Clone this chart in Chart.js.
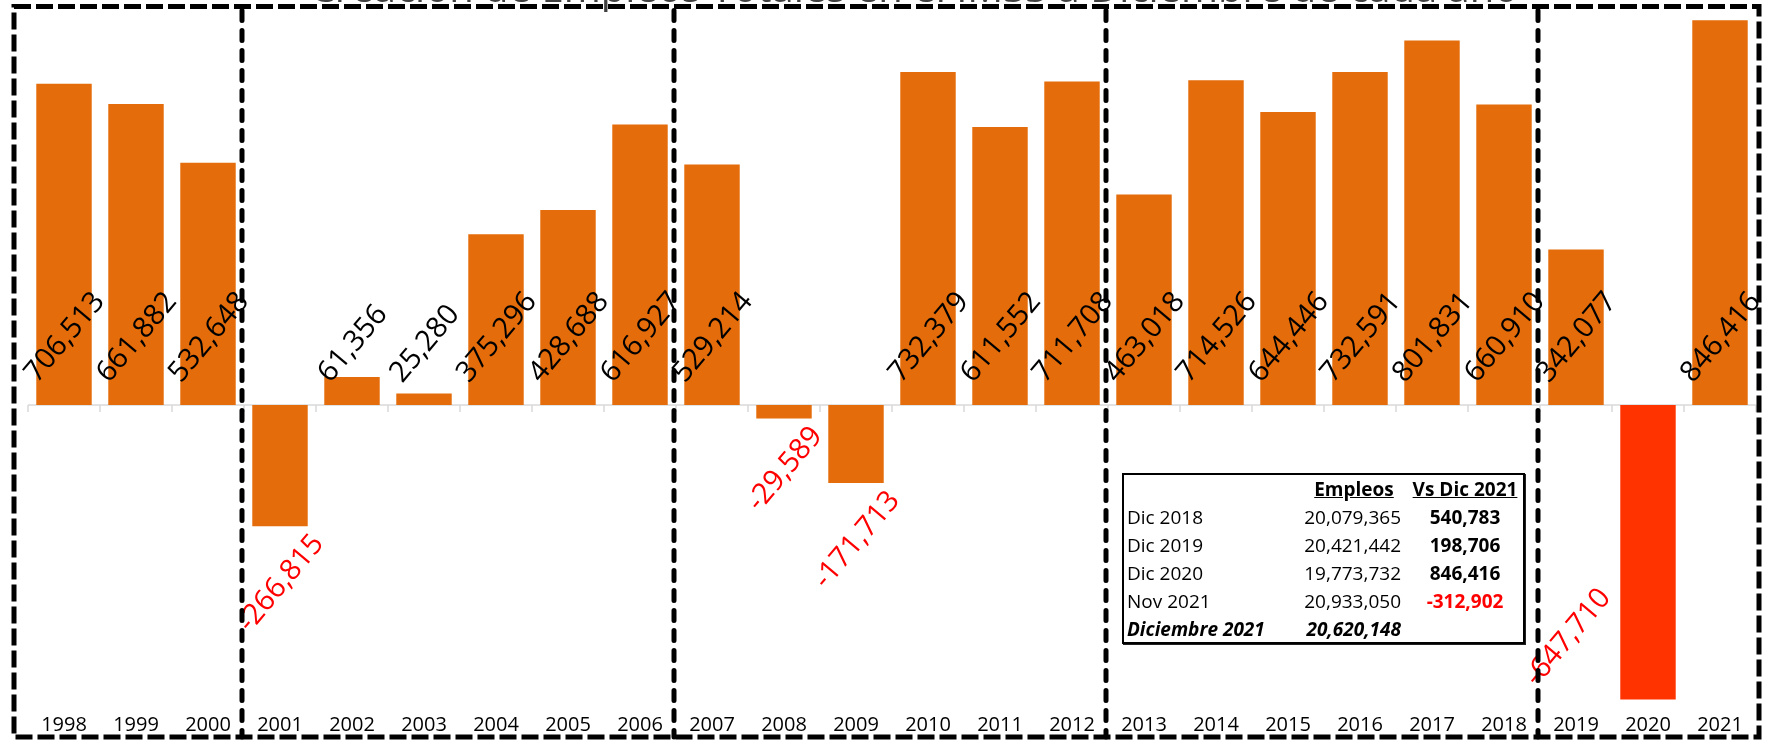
<!DOCTYPE html>
<html>
<head>
<meta charset="utf-8">
<script src="https://cdn.jsdelivr.net/npm/chart.js@4.4.1/dist/chart.umd.min.js"></script>
<style>
  body { margin: 0; background: #fff; }
  #wrap { position: relative; width: 1769px; height: 740px; }
  #summary {
    position: absolute; left: 1122px; top: 473px; width: 403px; height: 171px;
    box-sizing: border-box; border: 2px solid #000; box-shadow: 1px 1px 0 #222;
    background: #fff; font-family: "Open Sans", sans-serif; font-size: 19px; color: #000;
  }
  #summary table { border-collapse: collapse; width: 100%; }
  #summary td { height: 28px; padding: 0; line-height: 28px; white-space: nowrap; }
  #summary td.lab { padding-left: 3px; width: 174px; }
  #summary td.num { text-align: right; padding-right: 6px; width: 100px; }
  #summary td.vs { text-align: center; font-weight: bold; }
  #summary .hd { font-weight: bold; text-decoration: underline; text-align: center; }
</style>
</head>
<body>
<div id="wrap">
  <canvas id="empleosChart"></canvas>
  <div id="summary"><table id="summaryTable"></table></div>
</div>
<script>
// --- Data ---
let years = ['1998', '1999', '2000', '2001', '2002', '2003', '2004', '2005', '2006', '2007', '2008', '2009',
             '2010', '2011', '2012', '2013', '2014', '2015', '2016', '2017', '2018', '2019', '2020', '2021'];
let jobsCreated = [706513, 661882, 532648, -266815, 61356, 25280, 375296, 428688, 616927, 529214, -29589, -171713,
                   732379, 611552, 711708, 463018, 714526, 644446, 732591, 801831, 660910, 342077, -647710, 846416];
let highlightYear = '2020';
let groupStarts = ['2001', '2007', '2013', '2019']; // first year of each dashed group

// summary table
let tableRows = ['Dic 2018', 'Dic 2019', 'Dic 2020', 'Nov 2021'];
let tableEmpleos = [20079365, 20421442, 19773732, 20933050];
let tableVsDic = [540783, 198706, 846416, -312902];
let totalLabel = 'Diciembre 2021';
let totalEmpleos = 20620148;

let titleText = 'Creación de Empleos Totales en el IMSS a Diciembre de cada año';

function fmt(n) {
    return n.toLocaleString('en-US');
}

// --- Summary table ---
let tbl = document.getElementById('summaryTable');
let html = '<tr><td class="lab"></td><td class="hd">Empleos</td><td class="hd">Vs Dic 2021</td></tr>';
tableRows.forEach(function (r, i) {
    let col = tableVsDic[i] < 0 ? ' style="color:#FF0000"' : '';
    html += '<tr><td class="lab">' + r + '</td><td class="num">' + fmt(tableEmpleos[i]) +
            '</td><td class="vs"' + col + '>' + fmt(tableVsDic[i]) + '</td></tr>';
});
html += '<tr><td class="lab" style="font-weight:bold;font-style:italic">' + totalLabel +
        '</td><td class="num" style="font-weight:bold;font-style:italic">' + fmt(totalEmpleos) + '</td><td></td></tr>';
tbl.innerHTML = html;

// --- Extra drawing: zero line, value labels, dashed boxes, title ---
let decorations = {
    id: 'decorations',
    beforeDatasetsDraw(chart) {
        let ctx = chart.ctx, area = chart.chartArea;
        let x = chart.scales.x, y0 = chart.scales.y.getPixelForValue(0);
        ctx.save();
        ctx.strokeStyle = '#D9D9D9';
        ctx.lineWidth = 1.5;
        ctx.beginPath();
        ctx.moveTo(area.left, y0);
        ctx.lineTo(area.right, y0);
        for (let i = 0; i <= years.length; i++) {
            let px;
            if (i === 0) px = area.left;
            else if (i === years.length) px = area.right;
            else px = (x.getPixelForValue(i - 1) + x.getPixelForValue(i)) / 2;
            ctx.moveTo(px, y0);
            ctx.lineTo(px, y0 + 7);
        }
        ctx.stroke();
        ctx.restore();
    },
    afterDatasetsDraw(chart) {
        let ctx = chart.ctx, area = chart.chartArea;
        let meta = chart.getDatasetMeta(0);
        let deg = 50, ang = -deg * Math.PI / 180;
        let size = 29;
        ctx.save();
        ctx.font = size + 'px "Open Sans"';
        ctx.textAlign = 'center';
        ctx.textBaseline = 'middle';
        meta.data.forEach(function (bar, i) {
            let v = jobsCreated[i];
            let txt = fmt(v);
            let p = bar.getProps(['x', 'y', 'base', 'width'], true);
            let w = ctx.measureText(txt).width, h = size * 0.8;
            let s = Math.sin(deg * Math.PI / 180), c = Math.cos(deg * Math.PI / 180);
            let bw = w * c + h * s, bh = w * s + h * c;
            let cx = p.x + 1, cy;
            if (v >= 0) {
                cy = p.base - 19 - bh / 2;
            } else {
                cy = p.y + 5 + bh / 2;
                if (cy + bh / 2 > area.bottom) {
                    // no room under the bar: put the label at its left side
                    cx = p.x - p.width / 2 - 6 - bw / 2;
                    cy = p.y - 10 - bh / 2;
                }
            }
            ctx.save();
            ctx.translate(cx, cy);
            ctx.rotate(ang);
            ctx.fillStyle = v < 0 ? '#FF0000' : '#000000';
            ctx.fillText(txt, 0, 0);
            ctx.restore();
        });
        ctx.restore();
    },
    afterDraw(chart) {
        let ctx = chart.ctx, x = chart.scales.x;
        let top = 6.5, bottom = 737, left = 14, right = 1759;
        ctx.save();
        // title, mostly cut off by the top edge
        ctx.font = '40px "Open Sans"';
        ctx.fillStyle = '#404040';
        ctx.textAlign = 'center';
        ctx.textBaseline = 'alphabetic';
        ctx.fillText(titleText, 914, 2);

        // outer dashed box
        ctx.strokeStyle = '#000';
        ctx.lineWidth = 5;
        ctx.setLineDash([17, 5]);
        ctx.strokeRect(left, top, right - left, bottom - top);

        // group separators
        ctx.lineCap = 'round';
        ctx.setLineDash([10, 10]);
        groupStarts.forEach(function (yr) {
            let i = years.indexOf(yr);
            let px = (x.getPixelForValue(i - 1) + x.getPixelForValue(i)) / 2 - 2;
            ctx.beginPath();
            ctx.moveTo(px, top + 4);
            ctx.lineTo(px, bottom);
            ctx.stroke();
        });
        ctx.restore();
    }
};

// --- Bar chart ---
let empleosCanvas = document.getElementById('empleosChart').getContext('2d');

let empleosChart = new Chart(empleosCanvas, {
    type: 'bar',
    data: {
        labels: years,
        datasets: [{
            label: 'Empleos',
            data: jobsCreated,
            backgroundColor: years.map(function (yr) { return yr === highlightYear ? '#FF3300' : '#E46C0A'; }),
            borderWidth: 0,
            barPercentage: 0.77,
            categoryPercentage: 1.0
        }]
    },
    options: {
        responsive: true,
        maintainAspectRatio: false,
        animation: false,
        layout: { padding: { left: 28, right: 13, top: 14, bottom: 5 } },
        plugins: {
            legend: { display: false },
            tooltip: { enabled: false }
        },
        scales: {
            x: {
                grid: { display: false },
                border: { display: false },
                afterFit: function (scale) { scale.height = 30; },
                ticks: {
                    padding: 0,
                    maxRotation: 0,
                    autoSkip: false,
                    color: '#000',
                    font: { size: 20, family: 'Open Sans' }
                }
            },
            y: {
                display: false,
                min: -660000,
                max: 860000
            }
        }
    },
    plugins: [decorations]
});
</script>
</body>
</html>
